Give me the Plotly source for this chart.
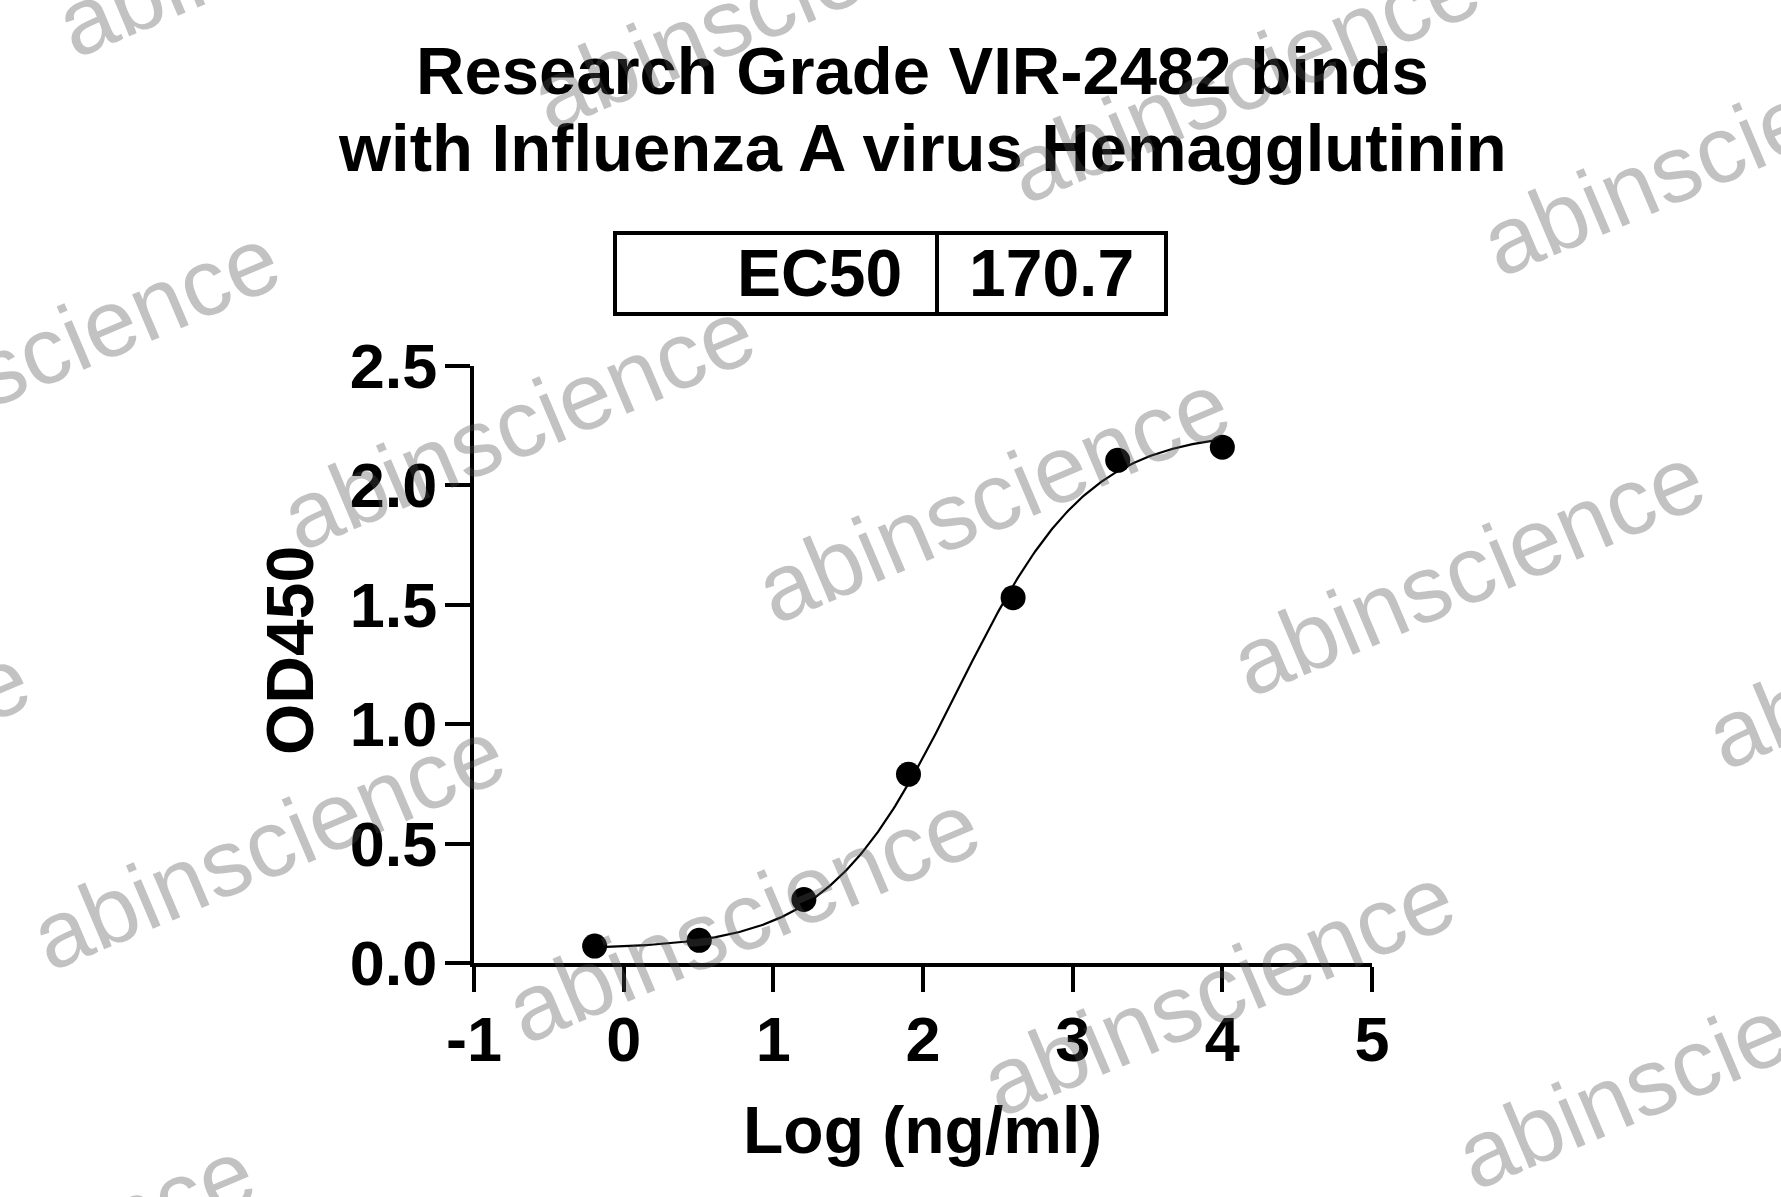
import numpy as np
import plotly.graph_objects as go

# ---- data ----
log_conc = [-0.194, 0.505, 1.204, 1.903, 2.602, 3.301, 4.0]
od450 = [0.071, 0.095, 0.266, 0.79, 1.53, 2.105, 2.16]
ec50_label = "EC50"
ec50_value = "170.7"
x_ticks = [-1, 0, 1, 2, 3, 4, 5]
y_ticks = [0.0, 0.5, 1.0, 1.5, 2.0, 2.5]
title_lines = ["Research Grade VIR-2482 binds", "with Influenza A virus Hemagglutinin"]

# 4PL fit parameters
fit_bottom = 0.057
fit_top = 2.23
fit_hill = 1.0
fit_log_ec50 = np.log10(float(ec50_value))

W, H = 1781, 1197
ML, MR, MT, MB = 474, 409, 366, 234
PW, PH = W - ML - MR, H - MT - MB
FONT = "Liberation Sans, Arial, sans-serif"


def px2x(px):
    return (px - ML) / PW


def px2y(py):
    return (H - MB - py) / PH


xc = np.linspace(min(log_conc), max(log_conc), 400)
yc = fit_bottom + (fit_top - fit_bottom) / (1 + 10 ** ((fit_log_ec50 - xc) * fit_hill))

fig = go.Figure()
fig.add_trace(go.Scatter(x=xc, y=yc, mode="lines", line=dict(color="black", width=2.2),
                         hoverinfo="skip", showlegend=False))
fig.add_trace(go.Scatter(x=log_conc, y=od450, mode="markers",
                         marker=dict(color="black", size=25), cliponaxis=False,
                         showlegend=False))

axis_common = dict(showline=True, linecolor="black", linewidth=4, ticks="outside",
                   ticklen=25, tickwidth=4, tickcolor="black", showgrid=False,
                   zeroline=False,
                   tickfont=dict(family=FONT, size=63, color="black", weight="bold"))
fig.update_xaxes(range=[-1, 5], tickvals=x_ticks, ticktext=[str(v) for v in x_ticks],
                 ticklabelstandoff=-7, **axis_common)
fig.update_yaxes(range=[0, 2.5], tickvals=y_ticks, ticktext=[f"{v:.1f}" for v in y_ticks],
                 ticklabelstandoff=-5, **axis_common)

ann = []
# titles
for i, (line, cy) in enumerate(zip(title_lines, [70, 148])):
    ann.append(dict(text=line, x=px2x(922), y=px2y(cy), xref="paper", yref="paper",
                    xanchor="center", yanchor="middle", showarrow=False,
                    font=dict(family=FONT, size=67, color="black", weight="bold")))
# axis titles
ann.append(dict(text="Log (ng/ml)", x=px2x(922), y=px2y(1130), xref="paper", yref="paper",
                xanchor="center", yanchor="middle", showarrow=False,
                font=dict(family=FONT, size=66, color="black", weight="bold")))
ann.append(dict(text="OD450", x=px2x(290), y=px2y(651), xref="paper", yref="paper",
                xanchor="center", yanchor="middle", showarrow=False, textangle=-90,
                font=dict(family=FONT, size=66, color="black", weight="bold")))
# EC50 table
ann.append(dict(text=ec50_label, x=px2x(904), y=px2y(273), xref="paper", yref="paper",
                xanchor="right", yanchor="middle", showarrow=False,
                font=dict(family=FONT, size=66, color="black", weight="bold")))
ann.append(dict(text=ec50_value, x=px2x(1051), y=px2y(273), xref="paper", yref="paper",
                xanchor="center", yanchor="middle", showarrow=False,
                font=dict(family=FONT, size=66, color="black", weight="bold")))

shapes = [
    dict(type="rect", xref="paper", yref="paper", x0=px2x(615), x1=px2x(1166),
         y0=px2y(233), y1=px2y(314), line=dict(color="black", width=4)),
    dict(type="line", xref="paper", yref="paper", x0=px2x(937), x1=px2x(937),
         y0=px2y(233), y1=px2y(314), line=dict(color="black", width=4)),
]

# watermarks (decoration grid)
u = (475, 73)
v = (-250, 420)
c0 = (993, 513)
for j in range(-2, 3):
    for i in range(-3, 3):
        cx = c0[0] + i * u[0] + j * v[0]
        cy = c0[1] + i * u[1] + j * v[1]
        if -400 < cx < W + 400 and -250 < cy < H + 250:
            ann.append(dict(text="abinscience", x=px2x(cx), y=px2y(cy - 16), xref="paper",
                            yref="paper", xanchor="center", yanchor="middle",
                            showarrow=False, textangle=-23,
                            font=dict(family=FONT, size=95, color="rgba(80,80,80,0.35)")))

fig.update_layout(width=W, height=H, margin=dict(l=ML, r=MR, t=MT, b=MB),
                  paper_bgcolor="white", plot_bgcolor="white",
                  annotations=ann, shapes=shapes, showlegend=False)

fig.write_html("out.html", config={"displayModeBar": False},
               post_script="document.body.style.margin='0';document.body.style.overflow='hidden';")
